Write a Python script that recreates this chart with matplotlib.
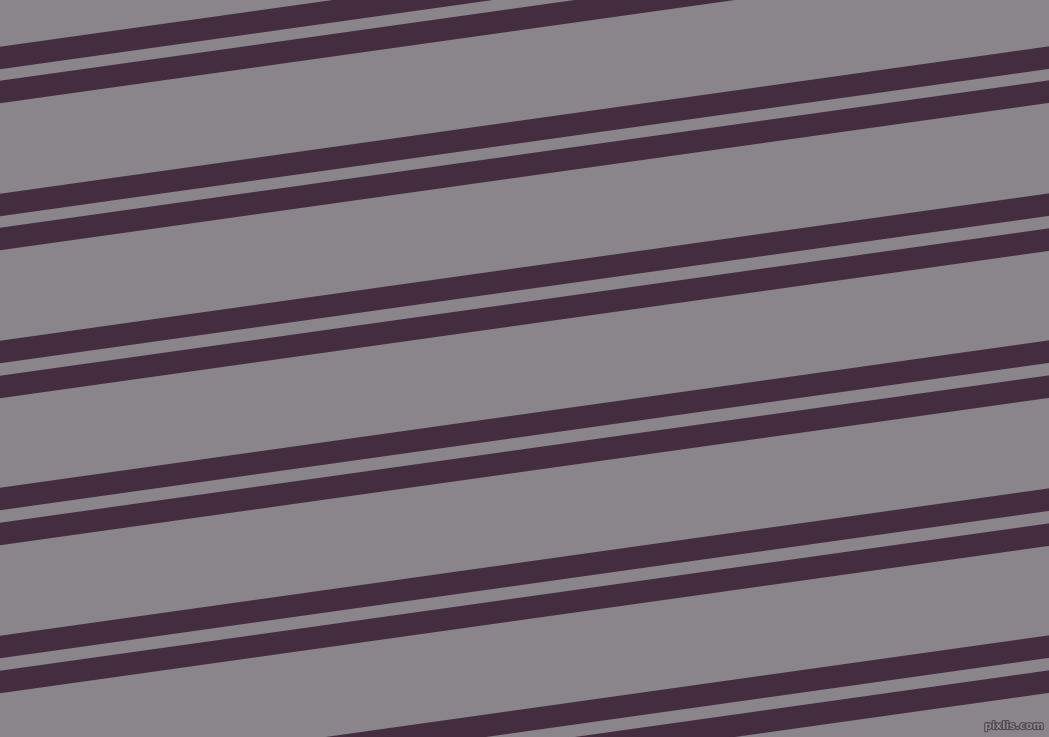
import matplotlib
matplotlib.use("Agg")
import matplotlib.pyplot as plt
import matplotlib.patheffects as pe
import numpy as np

# Canvas size in pixels
WIDTH = 1049
HEIGHT = 737

# Stripe centres where they meet the left edge (pixels from top)
stripe_centres = [-89.5, -55, 58, 92, 205, 239, 352, 387, 499, 534, 647, 682, 794, 829]
stripe_height = 22.5   # vertical thickness in pixels
stripe_slope = 0.1405  # rise per pixel to the right (about 8 degrees)

BG_COLOR = "#8a858a"
STRIPE_COLOR = "#432d3e"

fig = plt.figure(figsize=(WIDTH / 100, HEIGHT / 100), dpi=100)
ax = fig.add_axes([0, 0, 1, 1])
ax.set_facecolor(BG_COLOR)
fig.patch.set_facecolor(BG_COLOR)

x = np.array([0, WIDTH])
for c in stripe_centres:
    top = c - stripe_height / 2 - stripe_slope * x
    bottom = c + stripe_height / 2 - stripe_slope * x
    ax.fill_between(x, top, bottom, color=STRIPE_COLOR, linewidth=0, antialiased=True)

ax.set_xlim(0, WIDTH)
ax.set_ylim(HEIGHT, 0)
ax.set_axis_off()

# small site mark in the corner
ax.text(1044, 731, "pixlis.com", ha="right", va="bottom", fontsize=7.5,
        fontweight="bold", color="#8f8a8f",
        path_effects=[pe.withStroke(linewidth=1.5, foreground="#4f474d")])

fig.savefig("out.png", dpi=100, facecolor=BG_COLOR)
